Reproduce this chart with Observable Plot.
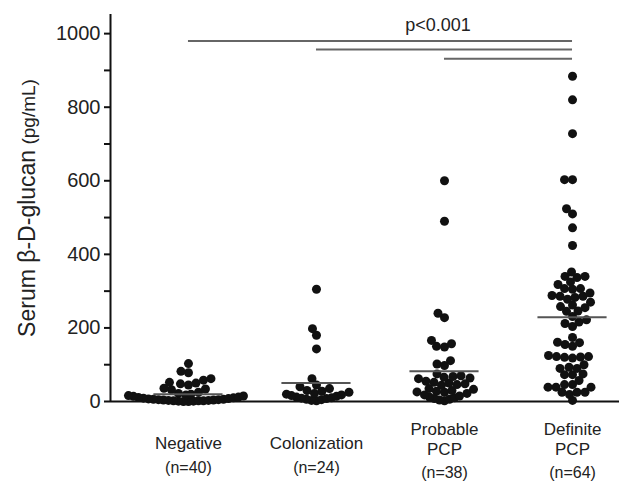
<!DOCTYPE html>
<html><head><meta charset="utf-8">
<script src="https://cdn.jsdelivr.net/npm/d3@7"></script>
<script src="https://cdn.jsdelivr.net/npm/@observablehq/plot@0.6"></script>
<style>
body{margin:0;background:#fff;}
#chart svg g[aria-label="y-axis"] line,
#chart svg g[aria-label="y-axis tick"] path,
#chart svg g[aria-label="y-axis tick"] line {stroke-width:2px;stroke:#111;}
</style></head><body><div id="chart"></div>
<script>
// ---- data ----
const categories = ["Negative", "Colonization", "Probable\nPCP", "Definite\nPCP"];
const counts = ["(n=40)", "(n=24)", "(n=38)", "(n=64)"];
const negative = [103, 82, 78, 62, 58, 52, 50, 48, 45, 36, 34, 32,
  25, 22, 20, 18, 16, 15, 14, 12, 11, 10, 9, 8, 7, 6, 6, 5, 5, 4, 4, 3, 3, 2, 2, 2, 1, 1, 0, 0];
const colonization = [305, 198, 180, 143, 62, 45, 40, 35, 30, 28, 25, 22, 20, 18, 16, 14, 12, 10, 9, 8, 6, 5, 3, 2];
const probable = [600, 490, 240, 228, 166, 157, 150, 148, 111, 102, 98, 75, 70, 68, 66, 64, 62, 55, 52, 50,
  48, 46, 44, 35, 33, 30, 28, 26, 25, 22, 18, 15, 12, 10, 8, 6, 4, 2];
const definite = [884, 820, 728, 603, 603, 524, 510, 472, 424,
  352, 340, 340, 337, 325, 318, 307, 307, 305, 295, 288, 286, 286, 283, 278, 270, 262, 258, 255, 246, 245, 231, 222, 216, 212, 204,
  174, 161, 160, 155, 150, 125, 122, 122, 121, 120, 118, 100, 93, 90, 90, 75, 73, 73, 57, 46, 46, 39, 39, 39, 25, 25, 25, 19, 3];
const meanLines = [20, 50, 82, 229];
const brackets = [{from: 0, to: 3, y: 980}, {from: 1, to: 3, y: 957}, {from: 2, to: 3, y: 932}];
const pLabel = "p<0.001";
const yTicks = d3.range(0, 1001, 100);
const yTitleMain = "Serum β-D-glucan";
const yTitleUnit = "(pg/mL)";

// ---- layout ----
const W = 629, H = 481, mL = 110, mR = 10, mT = 14, mB = 80, yMax = 1052;
const xDomain = [-0.609, 3.367];
const pxPerUnitY = (H - mT - mB) / yMax;
const pxPerUnitX = (W - mL - mR) / (xDomain[1] - xDomain[0]);
const minDist = 7.6, floorPx = 8, floorSqueeze = 2.6;

// simple beeswarm: each dot goes to the nearest free horizontal offset;
// dots lying on the floor of the axis are allowed to overlap more sideways
function swarm(values, gi) {
  const placed = [];
  const out = [];
  for (const v of values.slice().sort((a, b) => a - b)) {
    const py = v * pxPerUnitY;
    for (let k = 0; ; k++) {
      const xo = k === 0 ? 0 : (k % 2 ? -(k + 1) / 2 : k / 2) * 0.5;
      const hit = placed.some(p => {
        const a = (p.py < floorPx && py < floorPx) ? floorSqueeze : 1;
        return a * (p.xo - xo) ** 2 + (p.py - py) ** 2 < minDist * minDist;
      });
      if (!hit) {
        placed.push({xo, py});
        out.push({group: gi, value: v, xo});
        break;
      }
    }
  }
  return out;
}
const groups = [negative, colonization, probable, definite];
const dots = groups.flatMap((vals, gi) => swarm(vals, gi));
const labelRows = categories.map((c, i) => ({i, c, n: counts[i], two: c.includes("\n")}));
const yTitle = yTitleMain + " " + yTitleUnit;

const plot = Plot.plot({
  width: W, height: H, marginLeft: mL, marginRight: mR, marginTop: mT, marginBottom: mB,
  style: {fontFamily: "'Liberation Sans', Arial, Helvetica, sans-serif", fontSize: "20px", color: "#222", background: "#fff"},
  x: {domain: xDomain, axis: null},
  y: {domain: [0, yMax], ticks: yTicks, tickSize: 6, tickPadding: 4,
      tickFormat: d => d % 200 === 0 ? String(d) : "", label: null},
  marks: [
    Plot.ruleX([xDomain[0]], {y1: 0, y2: yMax, stroke: "#111", strokeWidth: 2}),
    Plot.ruleY([0], {x1: xDomain[0], x2: xDomain[1], stroke: "#111", strokeWidth: 2}),
    Plot.dot(dots, {x: d => d.group + d.xo / pxPerUnitX, y: "value", r: 4.5, fill: "#111", stroke: "none"}),
    Plot.ruleY(meanLines, {y: d => d, x1: (d, i) => i - 0.27, x2: (d, i) => i + 0.27, stroke: "#555", strokeWidth: 2}),
    Plot.ruleY(brackets, {y: "y", x1: "from", x2: "to", stroke: "#666", strokeWidth: 2}),
    Plot.text([pLabel], {x: 1.95, y: 1022, text: d => d, fontSize: 18}),
    Plot.text(labelRows.filter(d => !d.two), {x: "i", text: "c", frameAnchor: "bottom", dy: 42, fontSize: 17, lineAnchor: "middle"}),
    Plot.text(labelRows.filter(d => d.two), {x: "i", text: "c", frameAnchor: "bottom", dy: 37, fontSize: 17, lineHeight: 1.15, lineAnchor: "middle"}),
    Plot.text(labelRows.filter(d => !d.two), {x: "i", text: "n", frameAnchor: "bottom", dy: 66, fontSize: 16, lineAnchor: "middle"}),
    Plot.text(labelRows.filter(d => d.two), {x: "i", text: "n", frameAnchor: "bottom", dy: 71, fontSize: 16, lineAnchor: "middle"}),
    Plot.text([yTitle], {frameAnchor: "left", dx: -82, rotate: -90, text: d => d, fontSize: 21, textAnchor: "middle"})
  ]
});

for (const t of plot.querySelectorAll("text")) {
  if (t.textContent === yTitle) {
    t.textContent = "";
    const ns = "http://www.w3.org/2000/svg";
    const a = document.createElementNS(ns, "tspan");
    a.textContent = yTitleMain;
    a.setAttribute("font-size", "23");
    const b = document.createElementNS(ns, "tspan");
    b.textContent = " " + yTitleUnit;
    b.setAttribute("font-size", "19");
    t.appendChild(a); t.appendChild(b);
  }
}
document.getElementById("chart").appendChild(plot);
</script></body></html>
